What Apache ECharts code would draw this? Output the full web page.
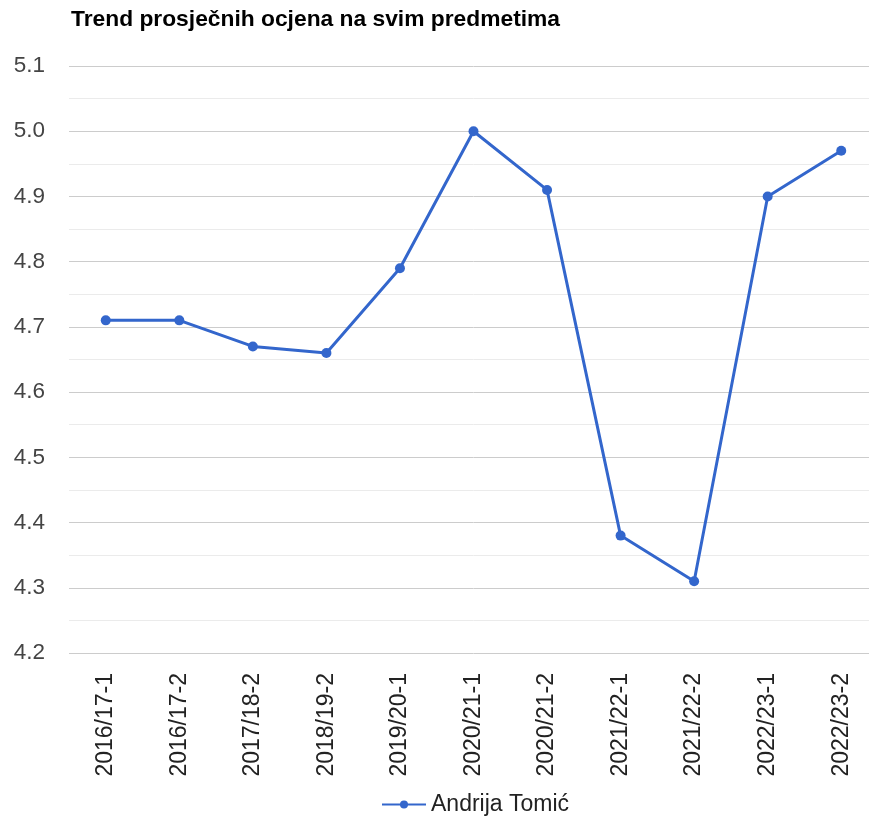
<!DOCTYPE html>
<html><head><meta charset="utf-8">
<script src="https://cdn.jsdelivr.net/npm/echarts@6/dist/echarts.min.js"></script>
<style>html,body{margin:0;padding:0;background:#fff;overflow:hidden}#c{width:878px;height:816px}</style>
</head><body><div id="c"></div>
<script>
const categories = ['2016/17-1','2016/17-2','2017/18-2','2018/19-2','2019/20-1','2020/21-1','2020/21-2','2021/22-1','2021/22-2','2022/23-1','2022/23-2'];
const seriesName = 'Andrija Tomić';
const values = [4.71, 4.71, 4.67, 4.66, 4.79, 5.00, 4.91, 4.38, 4.31, 4.90, 4.97];
const yTicks = [4.2, 4.3, 4.4, 4.5, 4.6, 4.7, 4.8, 4.9, 5.0, 5.1];
const titleText = 'Trend prosječnih ocjena na svim predmetima';

const FONT = 'Liberation Sans, Arial, sans-serif';
const chart = echarts.init(document.getElementById('c'), null, {renderer:'canvas'});
chart.setOption({
  animation:false,
  textStyle:{fontFamily:FONT},
  title:{text:titleText,left:66,top:3,textStyle:{fontSize:22.8,fontWeight:'bold',color:'#000',fontFamily:FONT}},
  legend:{data:[seriesName],left:376,top:788,itemWidth:44,itemHeight:10,itemGap:13,
    textStyle:{fontSize:23,color:'#222',fontFamily:FONT}},
  grid:{left:69,right:0,top:66,bottom:163,containLabel:false},
  xAxis:{type:'category',data:categories,boundaryGap:true,
    axisLine:{show:false},axisTick:{show:false},
    axisLabel:{rotate:90,fontSize:23,color:'#222',margin:20,fontFamily:FONT}},
  yAxis:{type:'value',min:yTicks[0],max:yTicks[yTicks.length-1],interval:0.1,
    axisLine:{show:false},axisTick:{show:false},
    axisLabel:{fontSize:22.5,color:'#444',margin:24,formatter:v=>v.toFixed(1),fontFamily:FONT},
    splitLine:{lineStyle:{color:'#cccccc',width:1}},
    minorTick:{show:false,splitNumber:2},
    minorSplitLine:{show:true,lineStyle:{color:'#ebebeb',width:1}}},
  series:[{name:seriesName,type:'line',data:values,color:'#3366cc',
    symbol:'circle',symbolSize:10,lineStyle:{width:3,color:'#3366cc'},itemStyle:{color:'#3366cc'}}]
});
</script></body></html>
